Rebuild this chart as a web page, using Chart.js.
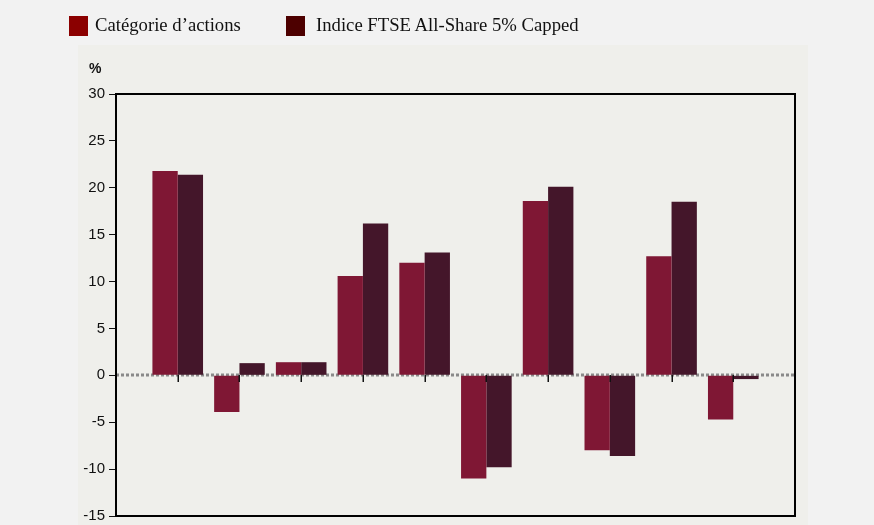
<!DOCTYPE html>
<html>
<head>
<meta charset="utf-8">
<script src="https://cdn.jsdelivr.net/npm/chart.js@4"></script>
<style>
  html, body { margin: 0; padding: 0; background: #f2f2f2; }
  #wrap { position: relative; width: 874px; height: 525px; overflow: hidden; }
  #panel { position: absolute; left: 78px; top: 45px; width: 730px; height: 480px; background: #efefeb; }
  canvas { position: absolute; left: 0; top: 0; }
  .leg { position: absolute; top: 14px; font-family: "Liberation Serif", "Times New Roman", serif; font-size: 18.7px; color: #111; white-space: nowrap; }
  .sw { position: absolute; width: 19px; height: 20px; top: 16px; }
  #pct { position: absolute; left: 89px; top: 60px; font-family: "Liberation Sans", Arial, sans-serif; font-size: 14px; font-weight: bold; color: #111; }
</style>
</head>
<body>
<div id="wrap">
  <div id="panel"></div>
  <canvas id="c" width="874" height="525"></canvas>
  <div class="sw" style="left:69px;background:#8b0000"></div>
  <div class="leg" style="left:95px">Catégorie d’actions</div>
  <div class="sw" style="left:286px;background:#4d0000"></div>
  <div class="leg" style="left:316px">Indice FTSE All-Share 5% Capped</div>
  <div id="pct">%</div>
</div>
<script>
const categories = ['', '1', '2', '3', '4', '5', '6', '7', '8', '9', '10', ''];
const seriesNames = ['Catégorie d’actions', 'Indice FTSE All-Share 5% Capped'];
const fundValues  = [null, 21.8, -3.9, 1.4, 10.6, 12.0, -11.0, 18.6, -8.0, 12.7, -4.7, null];
const indexValues = [null, 21.4, 1.3, 1.4, 16.2, 13.1, -9.8, 20.1, -8.6, 18.5, -0.4, null];
const yTicks = [30, 25, 20, 15, 10, 5, 0, -5, -10, -15];

const framePlugin = {
  id: 'frame',
  beforeDatasetsDraw(chart) {
    const {ctx, chartArea: a, scales: {y}} = chart;
    const y0 = Math.round(y.getPixelForValue(0));
    ctx.save();
    ctx.strokeStyle = '#8a8a8a';
    ctx.lineWidth = 3;
    ctx.setLineDash([3, 2]);
    ctx.beginPath();
    ctx.moveTo(a.left, y0);
    ctx.lineTo(a.right, y0);
    ctx.stroke();
    ctx.restore();
  },
  afterDatasetsDraw(chart) {
    const {ctx, chartArea: a, scales: {x, y}} = chart;
    const y0 = Math.round(y.getPixelForValue(0));
    ctx.save();
    ctx.strokeStyle = '#111';
    ctx.lineWidth = 1.5;
    for (let i = 1; i < categories.length - 1; i++) {
      const px = Math.round(x.getPixelForValue(i)) + 0.25;
      ctx.beginPath();
      ctx.moveTo(px, y0);
      ctx.lineTo(px, y0 + 7);
      ctx.stroke();
    }
    ctx.strokeStyle = '#000';
    ctx.lineWidth = 2;
    ctx.strokeRect(a.left, a.top, a.right - a.left, a.bottom - a.top);
    ctx.restore();
  }
};

new Chart(document.getElementById('c'), {
  type: 'bar',
  data: {
    labels: categories,
    datasets: [
      { label: seriesNames[0], data: fundValues, backgroundColor: '#7f1734' },
      { label: seriesNames[1], data: indexValues, backgroundColor: '#44162a' }
    ]
  },
  options: {
    responsive: false,
    animation: false,
    events: [],
    layout: { padding: { left: 62, top: 94, right: 79, bottom: 9 } },
    plugins: { legend: { display: false }, tooltip: { enabled: false } },
    datasets: { bar: { categoryPercentage: 0.82, barPercentage: 1.0 } },
    scales: {
      x: {
        type: 'category',
        offset: false,
        display: false,
        grid: { display: false }
      },
      y: {
        min: -15, max: 30,
        afterFit(scale) { scale.width = 54; scale.paddingTop = 0; scale.paddingBottom = 0; },
        afterBuildTicks(scale) { scale.ticks = yTicks.map(v => ({ value: v })); },
        border: { display: true, color: '#000', width: 2 },
        grid: { drawOnChartArea: false, drawTicks: true, tickLength: 7, color: '#111', lineWidth: 1 },
        ticks: {
          color: '#111',
          padding: 4,
          font: { family: '"Liberation Sans", Arial, sans-serif', size: 15 }
        }
      }
    }
  },
  plugins: [framePlugin]
});
</script>
</body>
</html>
